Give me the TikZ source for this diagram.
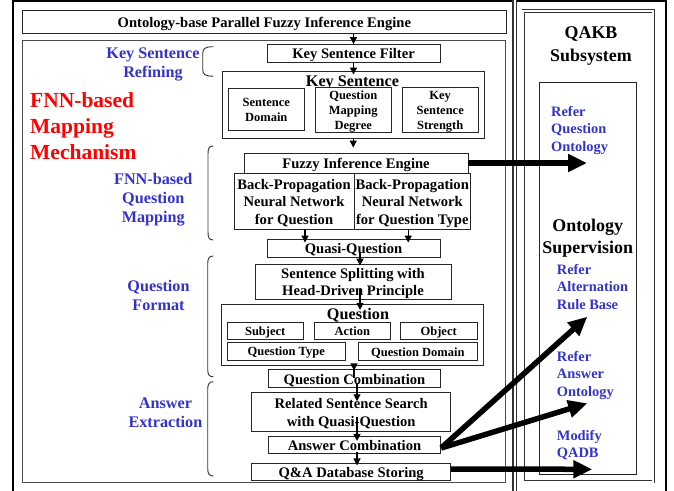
\documentclass[tikz,border=0pt]{standalone}
\usepackage{fontspec}
\setmainfont{Liberation Serif}
\usetikzlibrary{arrows.meta}
\definecolor{lblblue}{RGB}{51,51,204}
\definecolor{mechred}{RGB}{255,0,0}
% struts that give every text block the same ascent and descent
\newcommand\lnup{\rule{0pt}{0.98em}}
\newcommand\lndn{\rule[-0.2em]{0pt}{0pt}}

\begin{document}
\begin{tikzpicture}[x=1pt,y=-1pt,
  box/.style={draw=black!85, line width=0.9pt, inner sep=0pt, align=center, fill=white,
    font=\fontsize{14.6}{17.5}\selectfont\bfseries},
  subbox/.style={box, font=\fontsize{12.5}{15}\selectfont\bfseries},
  boxtitle/.style={inner sep=0pt, font=\fontsize{16.2}{19}\selectfont\bfseries},
  flow/.style={-{Triangle[length=7pt,width=7pt]}, line width=1.2pt},
  bigflow/.style={-{Triangle[length=19pt,width=17pt]}, line width=5.5pt},
  phase/.style={text=lblblue, align=center, inner sep=0pt,
    font=\fontsize{16.2}{19}\selectfont\bfseries},
  mech/.style={text=mechred, align=left, anchor=west, inner sep=0pt,
    font=\fontsize{21.5}{26.3}\selectfont\bfseries},
  heading/.style={align=center, inner sep=0pt, font=\fontsize{17.9}{22.5}\selectfont\bfseries},
  duty/.style={text=lblblue, align=left, anchor=west, inner sep=0pt,
    font=\fontsize{14.4}{17.5}\selectfont\bfseries},
  bracket/.style={draw=black!80, line width=0.9pt},
]
\useasboundingbox (0,0) rectangle (674,490);

% outer frame and divider between the two subsystems
\draw[line width=2.5pt] (13,0.8) rectangle (666,500);
\draw[draw=black!80, double=white, double distance=2.3pt, line width=1.2pt] (514.8,-10) -- (514.8,500);

% QAKB subsystem panel
\draw[draw=black!80, double=white, double distance=1.8pt, line width=0.8pt] (523.3,10.8) rectangle (653.3,481.7);
\draw[draw=black!85, line width=0.9pt] (539,82.3) rectangle (636.7,474);

% mapping mechanism panel
\draw[draw=black!70, line width=1.2pt] (22.7,40.5) rectangle (505.5,482.5);

% engine title bar
\node[box, minimum width=483.3pt, minimum height=23.3pt] (top) at (264.35,21.65)
  {\lnup Ontology-base Parallel Fuzzy Inference Engine\lndn};

% key sentence refining
\node[box, minimum width=173pt, minimum height=17.5pt] (ksf) at (353.5,53.25) {\lnup Key Sentence Filter\lndn};
\node[box, minimum width=262.5pt, minimum height=67pt] (ks) at (353.25,104.5) {};
\node[boxtitle] (kstitle) at (352.5,80) {\lnup Key Sentence\lndn};
\node[subbox, minimum width=76.5pt, minimum height=42.5pt] (sd) at (266.25,109.6) {\lnup Sentence\\Domain\lndn};
\node[subbox, minimum width=75.5pt, minimum height=42.5pt] (qmd) at (353.25,109.6) {\lnup Question\\Mapping\\Degree\lndn};
\node[subbox, minimum width=76pt, minimum height=42.5pt] (kss) at (440.2,109.6) {\lnup Key\\Sentence\\Strength\lndn};

% FNN-based question mapping
\node[box, minimum width=224pt, minimum height=20pt] (fie) at (356,163) {\lnup Fuzzy Inference Engine\lndn};
\node[box, minimum width=120pt, minimum height=56pt] (bpq) at (294,201)
  {\lnup Back-Propagation\\Neural Network\\for Question\lndn};
\node[box, minimum width=116.5pt, minimum height=56pt] (bpqt) at (412.25,201)
  {\lnup Back-Propagation\\Neural Network\\for Question Type\lndn};
\node[box, minimum width=173pt, minimum height=18pt] (quasi) at (353.5,248) {\lnup Quasi-Question\lndn};

% question format
\node[box, minimum width=196pt, minimum height=33pt] (ss) at (353,281.5)
  {\lnup Sentence Splitting with\\Head-Driven Principle\lndn};
\node[box, minimum width=262pt, minimum height=60.7pt] (q) at (352,334.7) {};
\node[boxtitle] (qtitle) at (358,313.5) {\lnup Question\lndn};
\node[subbox, minimum width=76.3pt, minimum height=17pt] (subj) at (265.2,330.8) {\lnup Subject\lndn};
\node[subbox, minimum width=76.7pt, minimum height=17pt] (act) at (352.3,330.8) {\lnup Action\lndn};
\node[subbox, minimum width=77.3pt, minimum height=17pt] (obj) at (438.7,330.8) {\lnup Object\lndn};
\node[subbox, minimum width=118.7pt, minimum height=17.7pt] (qtype) at (286.3,351.2) {\lnup Question Type\lndn};
\node[subbox, minimum width=119pt, minimum height=17.7pt] (qdom) at (417.8,351.2) {\lnup Question Domain\lndn};
\node[box, minimum width=172.4pt, minimum height=17pt] (qc) at (354.5,378.5) {\lnup Question Combination\lndn};

% answer extraction
\node[box, minimum width=199pt, minimum height=38.3pt] (rss) at (351.2,411.85)
  {\lnup Related Sentence Search\\with Quasi-Question\lndn};
\node[box, minimum width=172.4pt, minimum height=16.6pt] (ac) at (354.5,445) {\lnup Answer Combination\lndn};
\node[box, minimum width=199pt, minimum height=16pt] (qadb) at (351.2,472) {\lnup Q\&A Database Storing\lndn};

% stage brackets
\draw[bracket] (213.3,46.7) .. controls (205,46.7) and (202.7,48.5) .. (202.7,54) -- (202.7,69)
  .. controls (202.7,74.5) and (205,76.2) .. (213.3,76.2);
\draw[bracket] (213.3,146) .. controls (209,146) and (208,148.5) .. (208,154) -- (208,232)
  .. controls (208,237.5) and (209,240) .. (213.3,240);
\draw[bracket] (213.3,256) .. controls (209,256) and (207.7,258.5) .. (207.7,264) -- (207.7,369)
  .. controls (207.7,374.5) and (209,376.7) .. (213.3,376.7);
\draw[bracket] (213.3,381.7) .. controls (209,381.7) and (207.7,384.2) .. (207.7,389.7) -- (207.7,468)
  .. controls (207.7,473.5) and (209,476) .. (213.3,476);

% stage labels
\node[phase] (lblks) at (153,62.2) {\lnup Key Sentence\\Refining\lndn};
\node[mech] (lblmech) at (30,125) {\lnup FNN-based\\Mapping\\Mechanism\lndn};
\node[phase] (lblfnn) at (153.3,197.3) {\lnup FNN-based\\Question\\Mapping\lndn};
\node[phase] (lblqf) at (158.5,294.2) {\lnup Question\\Format\lndn};
\node[phase] (lblae) at (165.4,411.2) {\lnup Answer\\Extraction\lndn};

% QAKB labels
\node[heading] (qakb) at (591,43.2) {\lnup QAKB\\Subsystem\lndn};
\node[heading] (onto) at (587.7,235.5) {\lnup Ontology\\Supervision\lndn};
\node[duty] (dqo) at (551,128.5) {\lnup Refer\\Question\\Ontology\lndn};
\node[duty] (dar) at (556.7,286.3) {\lnup Refer\\Alternation\\Rule Base\lndn};
\node[duty] (dao) at (556.7,373.2) {\lnup Refer\\Answer\\Ontology\lndn};
\node[duty] (ddb) at (556.7,443.3) {\lnup Modify\\QADB\lndn};

% processing flow
\draw[flow] (ksf.north |- top.south) -- (ksf.north);
\draw[flow, shorten >=-4pt] (ksf.south) -- (ksf.south |- ks.north);
\draw[flow, shorten >=5pt] (ks.south) -- (ks.south |- fie.north);
\draw[flow, shorten >=-4pt] ([xshift=11pt]bpq.south) -- ([xshift=11pt]bpq.south |- quasi.north);
\draw[flow, shorten >=-4pt] ([xshift=-4pt]bpqt.south) -- ([xshift=-4pt]bpqt.south |- quasi.north);
\draw[flow, shorten <=-5pt, shorten >=-2pt] ([xshift=6.5pt]quasi.south) -- ([xshift=6.5pt]quasi.south |- ss.north);
\draw[flow, shorten <=-10pt, shorten >=-6pt] ([xshift=7pt]ss.south) -- ([xshift=7pt]ss.south |- q.north);
\draw[flow, shorten <=-12pt, shorten >=-1pt] ([xshift=2pt]q.south) -- ([xshift=2pt]q.south |- qc.north);
\draw[flow, shorten <=-5pt, shorten >=-9pt] ([xshift=2.5pt]qc.south) -- ([xshift=2.5pt]qc.south |- rss.north);
\draw[flow, shorten <=-14pt, shorten >=-5pt] ([xshift=5.8pt]rss.south) -- ([xshift=5.8pt]rss.south |- ac.north);
\draw[flow, shorten <=-1.6pt, shorten >=-2.7pt] ([xshift=2.5pt]ac.south) -- ([xshift=2.5pt]ac.south |- qadb.north);

% links into the QAKB subsystem
\coordinate (pqo) at (587,163);
\coordinate (par) at (587.3,316.7);
\coordinate (pao) at (587.3,403.3);
\coordinate (pdb) at (592.3,469.3);
\draw[bigflow] (fie.east) -- (pqo);
\draw[bigflow] ([yshift=-3pt]ac.east) -- (par);
\draw[bigflow] ([yshift=-3pt]ac.east) -- (pao);
\draw[bigflow] ([yshift=3pt]qadb.east) -- (pdb);
\end{tikzpicture}
\end{document}
